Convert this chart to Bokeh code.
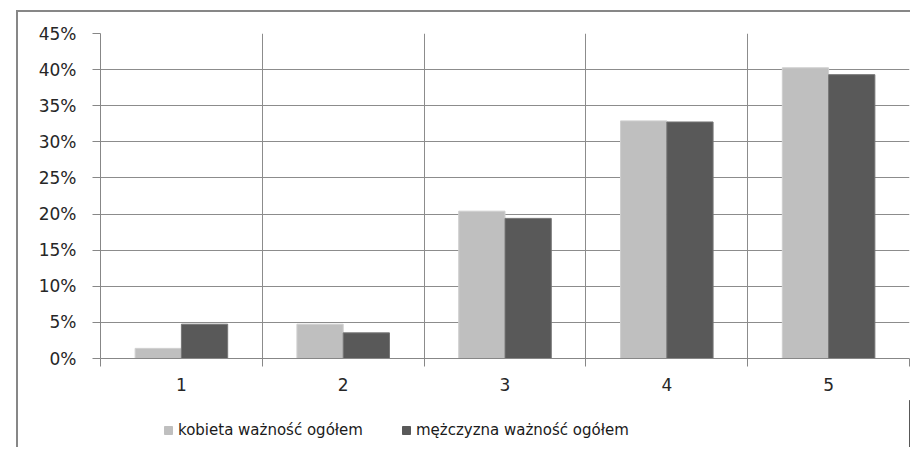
from bokeh.plotting import figure
from bokeh.layouts import column
from bokeh.models import FixedTicker, Range1d, Legend, LegendItem
from bokeh.embed import file_html
from bokeh.resources import INLINE

categories = ["1", "2", "3", "4", "5"]
kobieta = [1.4, 4.75, 20.4, 32.9, 40.25]
mezczyzna = [4.75, 3.55, 19.4, 32.75, 39.3]
y_ticks = [0, 5, 10, 15, 20, 25, 30, 35, 40, 45]
series_names = ["kobieta ważność ogółem", "mężczyzna ważność ogółem"]
colors = ["#bfbfbf", "#595959"]
edge_colors = ["#cfcfcf", "#767676"]

xs = [i + 1 for i in range(len(categories))]
bounds = [i + 0.5 for i in range(len(categories) + 1)]
bw = 0.286
font = "DejaVu Sans"

p = figure(width=892, height=388, output_backend="svg", toolbar_location=None,
           x_range=Range1d(0.5, 5.5), y_range=Range1d(0, 45),
           min_border_left=82, min_border_right=1, min_border_top=21, min_border_bottom=42)
p.outline_line_color = None
p.background_fill_color = "white"
p.border_fill_color = "white"

p.vbar(x=[x - bw / 2 for x in xs], top=kobieta, width=bw, bottom=0,
       fill_color=colors[0], line_color=edge_colors[0], line_width=1)
p.vbar(x=[x + bw / 2 for x in xs], top=mezczyzna, width=bw, bottom=0,
       fill_color=colors[1], line_color=edge_colors[1], line_width=1)

# x axis
p.xaxis.ticker = FixedTicker(ticks=xs, minor_ticks=bounds)
p.xaxis.major_label_overrides = {x: c for x, c in zip(xs, categories)}
p.xaxis.major_tick_out = 0
p.xaxis.major_tick_in = 0
p.xaxis.minor_tick_out = 8
p.xaxis.minor_tick_in = 0
p.xaxis.minor_tick_line_color = "#878787"
p.xaxis.axis_line_color = "#878787"
p.xaxis.major_label_standoff = 11
p.xaxis.major_label_text_font = font
p.xaxis.major_label_text_font_size = "17px"
p.xaxis.major_label_text_color = "#262626"

# y axis
p.yaxis.ticker = FixedTicker(ticks=y_ticks)
p.yaxis.major_label_overrides = {t: f"{t}%" for t in y_ticks}
p.yaxis.major_tick_out = 8
p.yaxis.major_tick_in = 0
p.yaxis.minor_tick_line_color = None
p.yaxis.major_tick_line_color = "#878787"
p.yaxis.axis_line_color = "#878787"
p.yaxis.major_label_standoff = 16
p.yaxis.major_label_text_font = font
p.yaxis.major_label_text_font_size = "17px"
p.yaxis.major_label_text_color = "#262626"

p.xgrid.ticker = FixedTicker(ticks=bounds)
p.xgrid.grid_line_color = "#8c8c8c"
p.ygrid.grid_line_color = "#8c8c8c"

# legend strip below the chart (series drawn off-range, used only as legend swatches)
lg = figure(width=892, height=47, output_backend="svg", toolbar_location=None,
            x_range=Range1d(-1, 0), y_range=Range1d(0, 1),
            x_axis_type=None, y_axis_type=None,
            min_border_left=0, min_border_right=0, min_border_top=0, min_border_bottom=0)
lg.outline_line_color = None
lg.xgrid.visible = False
lg.ygrid.visible = False
lg.background_fill_color = "white"
lg.border_fill_color = "white"
d1 = lg.vbar(x=xs, top=kobieta, width=bw, fill_color=colors[0], line_color=colors[0])
d2 = lg.vbar(x=xs, top=mezczyzna, width=bw, fill_color=colors[1], line_color=colors[1])
legend = Legend(items=[LegendItem(label=series_names[0], renderers=[d1]),
                       LegendItem(label=series_names[1], renderers=[d2])],
                location=(63, 7), orientation="horizontal",
                glyph_width=10, glyph_height=10, label_standoff=5, spacing=38,
                padding=0, margin=0, border_line_color=None, background_fill_alpha=0,
                label_text_font=font, label_text_font_size="15px", label_text_color="#1a1a1a",
                label_height=20)
lg.add_layout(legend, "center")

layout = column(p, lg, spacing=0)
layout.styles = {"margin-left": "16px", "margin-top": "10px",
                 "border-left": "2px solid #878787", "border-top": "2px solid #878787"}

open("out.html", "w").write(file_html(layout, INLINE))
